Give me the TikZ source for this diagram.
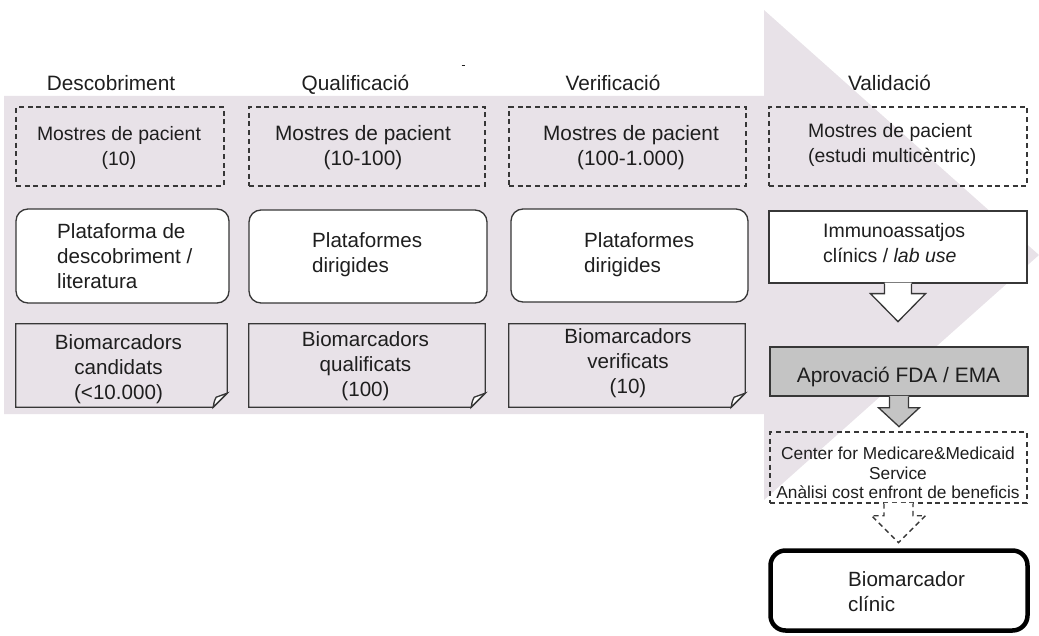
\documentclass[tikz,border=0pt]{standalone}
\usepackage{fontspec}
\setmainfont{Liberation Sans}
\usetikzlibrary{calc}
\definecolor{bgp}{RGB}{232,226,232}
\definecolor{ink}{RGB}{30,30,30}
\definecolor{ln}{RGB}{55,55,55}
\definecolor{fdagray}{RGB}{196,196,196}
\newcommand\docshape[1]{%
  \draw[docline] (#1.north west) -- (#1.north east) -- ($(#1.south east)+(0,-14)$) -- ($(#1.south east)+(-14,0)$) -- (#1.south west) -- cycle;
  \filldraw[docline,fill=white] ($(#1.south east)+(-14,0)$) .. controls ($(#1.south east)+(-13,-6)$) .. ($(#1.south east)+(-11,-10)$) -- ($(#1.south east)+(0,-14)$) -- cycle;}
\begin{document}
\begin{tikzpicture}[x=1pt,y=-1pt,
  hdr/.style={anchor=base,inner sep=0,text=ink,font=\fontsize{20.8}{25}\selectfont},
  txt/.style={inner sep=0,align=center,text=ink,font=\fontsize{20.6}{25}\selectfont},
  ltxt/.style={txt,align=left,anchor=west},
  sz/.style 2 args={minimum width=#1pt,minimum height=#2pt},
  boxbase/.style={inner sep=0,line width=1.3pt,draw=ln},
  dbox/.style={boxbase,dash pattern=on 5pt off 3.7pt},
  rbox/.style={boxbase,fill=white,rounded corners=12pt},
  sbox/.style={boxbase,fill=white},
  docbox/.style={inner sep=0},
  docline/.style={line width=1.3pt,draw=ln},
  arrowline/.style={line width=1.3pt,draw=ln,line join=miter},
]
\useasboundingbox (0,0) rectangle (1039,636);

% big background arrow
\fill[bgp] (4,96) -- (764,96) -- (764,10) -- (1039,255) -- (764,500) -- (764,414) -- (4,414) -- cycle;
\draw[ink,line width=1pt] (461.5,66) -- (464.5,66);

% headers
\node[hdr] (h1) at (111,91) {Descobriment};
\node[hdr] (h2) at (355.5,91) {Qualificació};
\node[hdr] (h3) at (613,91) {Verificació};
\node[hdr] (h4) at (889.5,91) {Validació};

% patient samples
\node[dbox,sz={208}{79}] (m1) at (120,146.5) {};
\node[dbox,sz={236}{79}] (m2) at (367,146.5) {};
\node[dbox,sz={237}{79}] (m3) at (627.5,146.5) {};
\node[dbox,sz={258}{79}] (m4) at (898,146.5) {};
\node[txt,font=\fontsize{19.4}{25}\selectfont] (m1t) at (119,147.5) {Mostres de pacient\\(10)};
\node[txt,font=\fontsize{20.8}{25}\selectfont] (m2t) at (363,147.5) {Mostres de pacient\\(10-100)};
\node[txt,font=\fontsize{20.8}{25}\selectfont] (m3t) at (631,147.5) {Mostres de pacient\\(100-1.000)};
\node[ltxt,font=\fontsize{19.4}{24.5}\selectfont] (m4t) at (808,145) {Mostres de pacient\\(estudi multicèntric)};

% platforms
\node[rbox,sz={213}{94}] (p1) at (122.5,256) {};
\node[rbox,sz={238}{93}] (p2) at (368,256.5) {};
\node[rbox,sz={237}{93}] (p3) at (629.5,255.5) {};
\node[ltxt] (p1t) at (57,256) {Plataforma de\\descobriment /\\literatura};
\node[ltxt] (p2t) at (312,255) {Plataformes\\dirigides};
\node[ltxt] (p3t) at (584,255) {Plataformes\\dirigides};

% immunoassays callout
\node[sbox,sz={258}{72}] (i4) at (898,247) {};
\fill[white] ($(i4.south)+(-13.5,-0.9)$) -- ($(i4.south)+(13.5,-0.9)$) -- ($(i4.south)+(13.5,10)$) -- ($(i4.south)+(27.5,10)$) -- ($(i4.south)+(0,38)$) -- ($(i4.south)+(-27.5,10)$) -- ($(i4.south)+(-13.5,10)$) -- cycle;
\draw[arrowline] ($(i4.south)+(-13.5,0)$) -- ($(i4.south)+(-13.5,10)$) -- ($(i4.south)+(-27.5,10)$) -- ($(i4.south)+(0,38)$) -- ($(i4.south)+(27.5,10)$) -- ($(i4.south)+(13.5,10)$) -- ($(i4.south)+(13.5,0)$);
\node[ltxt,font=\fontsize{19.5}{25}\selectfont] (i4t) at (823,243.5) {Immunoassatjos\\clínics / \textit{lab use}};

% biomarker documents
\node[docbox,sz={211}{83}] (d1) at (121.5,365.5) {};
\node[docbox,sz={236}{83}] (d2) at (367,365.5) {};
\node[docbox,sz={236}{83}] (d3) at (627,365.5) {};
\docshape{d1}
\docshape{d2}
\docshape{d3}
\node[txt] (d1t) at (118.5,369) {Biomarcadors\\candidats\\(<10.000)};
\node[txt] (d2t) at (365.5,366) {Biomarcadors\\qualificats\\(100)};
\node[txt] (d3t) at (628,363) {Biomarcadors\\verificats\\(10)};

% FDA / EMA approval callout
\node[boxbase,fill=fdagray,sz={258}{49}] (f4) at (899,371.5) {};
\fill[fdagray] ($(f4.south)+(-9.5,-0.9)$) -- ($(f4.south)+(9.5,-0.9)$) -- ($(f4.south)+(9.5,11)$) -- ($(f4.south)+(20.5,11)$) -- ($(f4.south)+(0,30)$) -- ($(f4.south)+(-20.5,11)$) -- ($(f4.south)+(-9.5,11)$) -- cycle;
\draw[arrowline] ($(f4.south)+(-9.5,0)$) -- ($(f4.south)+(-9.5,11)$) -- ($(f4.south)+(-20.5,11)$) -- ($(f4.south)+(0,30)$) -- ($(f4.south)+(20.5,11)$) -- ($(f4.south)+(9.5,11)$) -- ($(f4.south)+(9.5,0)$);
\node[hdr,font=\fontsize{20.9}{25}\selectfont] (f4t) at (898.5,382) {Aprovació FDA / EMA};

% CMS cost-benefit
\node[dbox,sz={257}{71}] (c4) at (898.5,467.5) {};
\fill[white] ($(c4.south)+(-14.5,-0.9)$) -- ($(c4.south)+(14.5,-0.9)$) -- ($(c4.south)+(14.5,12)$) -- ($(c4.south)+(27,12)$) -- ($(c4.south)+(0,39)$) -- ($(c4.south)+(-27,12)$) -- ($(c4.south)+(-14.5,12)$) -- cycle;
\draw[arrowline,dash pattern=on 5pt off 3.7pt] ($(c4.south)+(-14.5,0)$) -- ($(c4.south)+(-14.5,12)$) -- ($(c4.south)+(-27,12)$) -- ($(c4.south)+(0,39)$) -- ($(c4.south)+(27,12)$) -- ($(c4.south)+(14.5,12)$) -- ($(c4.south)+(14.5,0)$);
\node[txt,font=\fontsize{17.3}{19.5}\selectfont] (c4t) at (898,473) {Center for Medicare\&Medicaid\\Service\\Anàlisi cost enfront de beneficis};

% clinical biomarker
\node[rbox,line width=4.5pt,draw=black,rounded corners=15pt,sz={257}{80}] (bc) at (899,590.5) {};
\node[ltxt] (bct) at (848,592) {Biomarcador\\clínic};
\end{tikzpicture}
\end{document}
